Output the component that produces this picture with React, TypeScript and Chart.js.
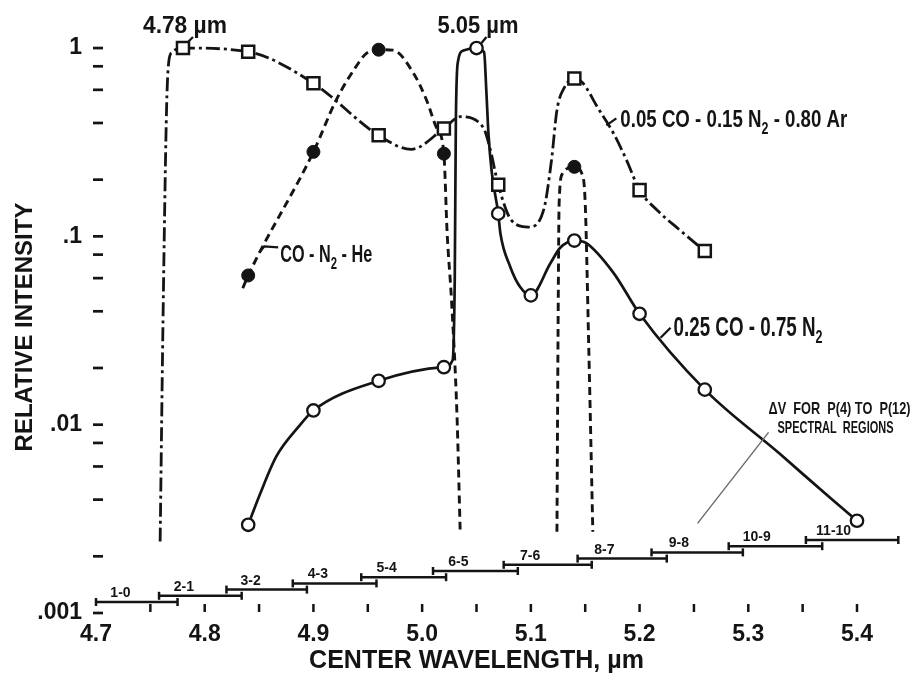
import { useEffect, useRef } from 'react';
import { Chart, registerables } from 'chart.js';

Chart.register(...registerables);

// 0.05 CO - 0.15 N2 - 0.80 Ar: measured points (open squares)
const arWavelength = [4.78, 4.84, 4.9, 4.96, 5.02, 5.07, 5.14, 5.2, 5.26];
const arIntensity = [1.0, 0.955, 0.65, 0.344, 0.374, 0.188, 0.69, 0.176, 0.0835];
// its dash-dot curve
const arCurveWavelength = [4.759, 4.762, 4.765, 4.767, 4.77, 4.775, 4.78, 4.84, 4.9, 4.96, 4.99, 5.02, 5.035, 5.056, 5.062, 5.07, 5.082, 5.098, 5.112, 5.119, 5.124, 5.131, 5.14, 5.148, 5.161, 5.176, 5.188, 5.2, 5.216, 5.237, 5.26];
const arCurveIntensity = [0.0024, 0.05, 0.5, 0.85, 0.95, 0.99, 1.0, 0.955, 0.65, 0.344, 0.29, 0.374, 0.432, 0.38, 0.3, 0.188, 0.122, 0.112, 0.14, 0.254, 0.468, 0.62, 0.69, 0.65, 0.488, 0.353, 0.254, 0.176, 0.138, 0.108, 0.0835];

// CO-N2-He: measured points (filled circles)
const heWavelength = [4.84, 4.9, 4.96, 5.02, 5.14];
const heIntensity = [0.062, 0.281, 0.98, 0.275, 0.234];
// its dashed curves
const heCurveWavelength = [4.835, 4.84, 4.9, 4.921, 4.94, 4.949, 4.96, 4.973, 4.992, 5.004, 5.013, 5.02, 5.023, 5.027, 5.032, 5.035];
const heCurveIntensity = [0.053, 0.062, 0.281, 0.53, 0.81, 0.94, 0.98, 0.975, 0.736, 0.53, 0.38, 0.275, 0.104, 0.046, 0.0114, 0.0027];
const heBandWavelength = [5.124, 5.125, 5.126, 5.129, 5.14, 5.147, 5.15, 5.153, 5.157];
const heBandIntensity = [0.0027, 0.03, 0.15, 0.215, 0.234, 0.215, 0.15, 0.03, 0.0027];

// 0.25 CO - 0.75 N2: measured points (open circles)
const n2Wavelength = [4.84, 4.9, 4.96, 5.02, 5.05, 5.07, 5.1, 5.14, 5.2, 5.26, 5.4];
const n2Intensity = [0.00294, 0.0119, 0.0171, 0.0202, 1.0, 0.132, 0.0486, 0.095, 0.0388, 0.01535, 0.00309];
// its solid curve
const n2CurveWavelength = [4.84, 4.851, 4.866, 4.886, 4.9, 4.96, 5.02, 5.028, 5.03, 5.031, 5.033, 5.038, 5.05, 5.057, 5.059, 5.061, 5.064, 5.07, 5.072, 5.081, 5.09, 5.1, 5.118, 5.127, 5.14, 5.151, 5.176, 5.2, 5.26, 5.329, 5.375, 5.4];
const n2CurveIntensity = [0.00294, 0.0043, 0.0068, 0.0097, 0.0119, 0.0171, 0.0202, 0.022, 0.06, 0.4, 0.85, 0.97, 1.0, 0.95, 0.6, 0.35, 0.22, 0.132, 0.1035, 0.069, 0.054, 0.0486, 0.072, 0.087, 0.095, 0.092, 0.064, 0.0388, 0.01535, 0.007, 0.0041, 0.00309];

// Δν spans of the P(4) to P(12) lines of each vibrational band
const bandLabels = ['1-0', '2-1', '3-2', '4-3', '5-4', '6-5', '7-6', '8-7', '9-8', '10-9', '11-10'];
const bandStart = [4.7, 4.758, 4.82, 4.881, 4.944, 5.01, 5.075, 5.143, 5.211, 5.282, 5.353];
const bandEnd = [4.775, 4.834, 4.894, 4.958, 5.022, 5.088, 5.156, 5.225, 5.295, 5.368, 5.438];

// axis ticks
const xTickValues = [4.7, 4.8, 4.9, 5.0, 5.1, 5.2, 5.3, 5.4];
const xTickLabels = ['4.7', '4.8', '4.9', '5.0', '5.1', '5.2', '5.3', '5.4'];
const xMarkValues = [4.75, 4.8, 4.85, 4.9, 4.95, 5.0, 5.05, 5.1, 5.15, 5.2, 5.25, 5.3, 5.35, 5.4];
const yTickValues = [0.001, 0.01, 0.1, 1];
const yTickLabels = ['.001', '.01', '.1', '1'];
const yMarkValues = [0.001, 0.002, 0.004, 0.006, 0.008, 0.01, 0.02, 0.04, 0.06, 0.08, 0.1, 0.2, 0.4, 0.6, 0.8, 1];

const INK = '#141414';
const FAMILY = '"Liberation Sans", Arial, sans-serif';

type Run = { t: string; sub?: boolean };

// Draws bold text runs (with subscripts), optionally squeezed to a given width.
function drawRuns(ctx: CanvasRenderingContext2D, runs: Run[], x: number, baseline: number, size: number, width?: number) {
  const fontFor = (r: Run) => `bold ${r.sub ? Math.round(size * 0.68) : size}px ${FAMILY}`;
  let total = 0;
  for (const r of runs) {
    ctx.font = fontFor(r);
    total += ctx.measureText(r.t).width;
  }
  const sx = width ? width / total : 1;
  ctx.save();
  ctx.translate(x, baseline);
  ctx.scale(sx, 1);
  ctx.textAlign = 'left';
  ctx.textBaseline = 'alphabetic';
  let cx = 0;
  for (const r of runs) {
    ctx.font = fontFor(r);
    ctx.fillText(r.t, cx, r.sub ? size * 0.27 : 0);
    cx += ctx.measureText(r.t).width;
  }
  ctx.restore();
}

function polyline(ctx: CanvasRenderingContext2D, pts: number[][]) {
  ctx.beginPath();
  ctx.moveTo(pts[0][0], pts[0][1]);
  for (let i = 1; i < pts.length; i++) ctx.lineTo(pts[i][0], pts[i][1]);
  ctx.stroke();
}

const decorations = {
  id: 'decorations',
  beforeDraw(chart: any) {
    const { ctx, width, height } = chart;
    ctx.save();
    ctx.fillStyle = '#ffffff';
    ctx.fillRect(0, 0, width, height);
    ctx.restore();
  },
  afterDatasetsDraw(chart: any) {
    const { ctx, chartArea } = chart;
    const xs = chart.scales.x;
    const ys = chart.scales.y;
    const P = (wl: number, v: number) => [xs.getPixelForValue(wl), ys.getPixelForValue(v)];
    ctx.save();
    ctx.strokeStyle = INK;
    ctx.fillStyle = INK;
    ctx.lineCap = 'butt';

    // tick marks on both axes
    ctx.lineWidth = 2.7;
    for (const v of yMarkValues) {
      const py = ys.getPixelForValue(v);
      polyline(ctx, [[chartArea.left - 3, py], [chartArea.left + 7, py]]);
    }
    ctx.lineWidth = 2.5;
    for (const v of xMarkValues) {
      const px = xs.getPixelForValue(v);
      polyline(ctx, [[px, chartArea.bottom - 9], [px, chartArea.bottom - 1]]);
    }

    // band spans with end caps and labels
    bandLabels.forEach((label, i) => {
      const x0 = xs.getPixelForValue(bandStart[i]);
      const x1 = xs.getPixelForValue(bandEnd[i]);
      const by = chartArea.bottom - 11 - i * 6.2;
      ctx.lineWidth = 2.5;
      polyline(ctx, [[x0, by], [x1, by]]);
      polyline(ctx, [[x0, by - 4], [x0, by + 4]]);
      polyline(ctx, [[x1, by - 4], [x1, by + 4]]);
      ctx.font = `bold 14px ${FAMILY}`;
      ctx.textAlign = 'center';
      ctx.textBaseline = 'alphabetic';
      ctx.fillText(label, x0 + 0.3 * (x1 - x0), by - 5);
    });

    // peak wavelength callouts
    ctx.lineWidth = 2.3;
    {
      const [ax, ay] = P(arWavelength[0], arIntensity[0]);
      drawRuns(ctx, [{ t: '4.78 µm' }], ax - 40, ay - 15, 23, 84);
      polyline(ctx, [[ax + 10, ay - 11], [ax + 5, ay - 6]]);
    }
    {
      const [ax, ay] = P(n2Wavelength[4], n2Intensity[4]);
      drawRuns(ctx, [{ t: '5.05 µm' }], ax - 39, ay - 15, 23, 81);
      polyline(ctx, [[ax + 10, ay - 11], [ax + 5, ay - 5]]);
    }

    // series labels
    {
      const [ax, ay] = P(heWavelength[0], heIntensity[0]);
      drawRuns(ctx, [{ t: 'CO - N' }, { t: '2', sub: true }, { t: ' - He' }], ax + 32, ay - 13, 23, 92);
      polyline(ctx, [[ax + 11, ay - 23], [ax + 16, ay - 29], [ax + 30, ay - 28]]);
    }
    {
      const [ax, ay] = P(arWavelength[6], arIntensity[6]);
      drawRuns(ctx, [{ t: '0.05 CO - 0.15 N' }, { t: '2', sub: true }, { t: ' - 0.80 Ar' }], ax + 46, ay + 49, 24, 227);
      polyline(ctx, [[ax + 32, ay + 47], [ax + 42, ay + 40]]);
    }
    {
      const [ax, ay] = P(n2Wavelength[8], n2Intensity[8]);
      drawRuns(ctx, [{ t: '0.25 CO - 0.75 N' }, { t: '2', sub: true }], ax + 34, ay + 22, 27, 149);
      polyline(ctx, [[ax + 21, ay + 24], [ax + 31, ay + 14]]);
    }
    {
      const ax = xs.getPixelForValue(bandStart[8]);
      const ay = chartArea.bottom - 11 - 8 * 6.2;
      drawRuns(ctx, [{ t: 'ΔV  FOR  P(4) TO  P(12)' }], ax + 117, ay - 138, 17, 142);
      drawRuns(ctx, [{ t: 'SPECTRAL  REGIONS' }], ax + 126, ay - 119, 17, 116);
      ctx.strokeStyle = '#6a6a6a';
      ctx.lineWidth = 1.4;
      polyline(ctx, [[ax + 117, ay - 120], [ax + 46, ay - 29]]);
    }
    ctx.restore();
  },
};

const pairs = (xs: number[], ys: number[]) => xs.map((x, i) => ({ x, y: ys[i] }));

const curve = (xs: number[], ys: number[], dash: number[], width: number) => ({
  type: 'line' as const,
  data: pairs(xs, ys),
  borderColor: INK,
  borderWidth: width,
  borderDash: dash,
  borderJoinStyle: 'round' as const,
  pointRadius: 0,
  pointHoverRadius: 0,
  fill: false,
  cubicInterpolationMode: 'monotone' as const,
  clip: false,
  order: 2,
});

const markers = (xs: number[], ys: number[], style: string, radius: number, bg: string, bw: number) => ({
  type: 'line' as const,
  data: pairs(xs, ys),
  showLine: false,
  pointStyle: style,
  pointRadius: radius,
  pointHoverRadius: radius,
  pointBackgroundColor: bg,
  pointBorderColor: INK,
  pointBorderWidth: bw,
  clip: false,
  order: 0,
});

export default function App() {
  const canvasRef = useRef<HTMLCanvasElement | null>(null);

  useEffect(() => {
    const canvas = canvasRef.current;
    if (!canvas) return;
    const chart = new Chart(canvas, {
      type: 'line',
      data: {
        datasets: [
          markers(arWavelength, arIntensity, 'rect', 8.5, '#ffffff', 2.5),
          markers(heWavelength, heIntensity, 'circle', 6.5, INK, 1),
          markers(n2Wavelength, n2Intensity, 'circle', 6.2, '#ffffff', 2.3),
          curve(arCurveWavelength, arCurveIntensity, [14, 4, 3, 4], 2.8),
          curve(heCurveWavelength, heCurveIntensity, [8, 5], 2.9),
          curve(heBandWavelength, heBandIntensity, [8, 5], 2.9),
          curve(n2CurveWavelength, n2CurveIntensity, [], 2.7),
        ] as any,
      },
      options: {
        animation: false,
        responsive: false,
        devicePixelRatio: 1,
        events: [],
        layout: { padding: { top: 41, right: 58, left: 0, bottom: 0 } },
        plugins: { legend: { display: false }, tooltip: { enabled: false } },
        scales: {
          x: {
            type: 'linear',
            min: 4.7,
            max: 5.4,
            grid: { display: false, drawTicks: false },
            border: { display: false },
            afterBuildTicks: (s: any) => {
              s.ticks = xTickValues.map((value) => ({ value }));
            },
            afterFit: (s: any) => {
              s.height = 69;
            },
            ticks: {
              autoSkip: false,
              maxRotation: 0,
              padding: 8,
              color: INK,
              font: { family: FAMILY, size: 23, weight: 'bold' },
              callback: (_v: any, i: number) => xTickLabels[i],
            },
            title: {
              display: true,
              text: 'CENTER WAVELENGTH, µm',
              color: INK,
              font: { family: FAMILY, size: 25, weight: 'bold' },
              padding: { top: 0, bottom: 6 },
            },
          },
          y: {
            type: 'logarithmic',
            min: 0.001,
            max: 1.09,
            grid: { display: false, drawTicks: false },
            border: { display: false },
            afterBuildTicks: (s: any) => {
              s.ticks = yTickValues.map((value) => ({ value }));
            },
            afterFit: (s: any) => {
              s.width = 96;
            },
            ticks: {
              autoSkip: false,
              padding: 14,
              color: INK,
              font: { family: FAMILY, size: 23, weight: 'bold' },
              callback: (_v: any, i: number) => yTickLabels[i],
            },
            title: {
              display: true,
              text: 'RELATIVE INTENSITY',
              color: INK,
              font: { family: FAMILY, size: 24, weight: 'bold' },
              padding: { top: 11, bottom: 0 },
            },
          },
        },
      } as any,
      plugins: [decorations],
    });
    return () => chart.destroy();
  }, []);

  return (
    <div style={{ position: 'fixed', left: 0, top: 0, width: 915, height: 682, background: '#fff' }}>
      <canvas ref={canvasRef} width={915} height={682} style={{ width: 915, height: 682, display: 'block' }} />
    </div>
  );
}
